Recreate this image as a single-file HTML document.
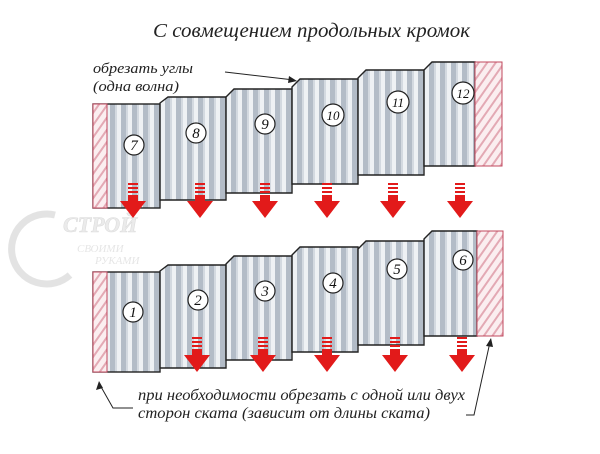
<!DOCTYPE html>
<html><head><meta charset="utf-8"><style>
html,body{margin:0;padding:0;background:#fff;}
svg{display:block;}
text{font-family:"Liberation Serif",serif;font-style:italic;}
</style></head><body>
<svg width="600" height="454" viewBox="0 0 600 454" xmlns="http://www.w3.org/2000/svg">
<defs>
<pattern id="st" width="11" height="10" patternUnits="userSpaceOnUse">
<rect width="11" height="10" fill="#eef1f4"/>
<rect x="0" width="5" height="10" fill="#b3bcc7"/>
<rect x="5" width="2" height="10" fill="#d3d9e0"/>
</pattern>
<pattern id="ht" width="7" height="7" patternUnits="userSpaceOnUse" patternTransform="rotate(35)">
<rect width="7" height="7" fill="#fbeef0"/>
<rect width="2" height="7" fill="#e3a9b4"/>
</pattern>
<g id="ar">
<rect x="-5" y="0" width="10" height="2" fill="#e21a1a"/>
<rect x="-5" y="4" width="10" height="2" fill="#e21a1a"/>
<rect x="-5" y="8" width="10" height="2" fill="#e21a1a"/>
<rect x="-5" y="12" width="10" height="6" fill="#e21a1a"/>
<polygon points="-13,18 13,18 0,35" fill="#e21a1a"/>
</g>
</defs>
<rect width="600" height="454" fill="#fff"/>
<text x="153" y="37" font-size="20" fill="#222" textLength="317" lengthAdjust="spacingAndGlyphs">С совмещением продольных кромок</text>

<!-- watermark -->
<g opacity="0.5" fill="none" stroke="#c9c9c9">
<path d="M55 215 A35 35 0 1 0 70 275" stroke-width="7"/>
<text x="63" y="232" font-size="22" fill="#d8d8d8" stroke="#bbb" stroke-width="0.6" font-style="normal" font-weight="bold">СТРОЙ</text>
<text x="77" y="252" font-size="11" fill="#ccc" stroke="none" font-style="normal">СВОИМИ</text>
<text x="95" y="264" font-size="11" fill="#ccc" stroke="none" font-style="normal">РУКАМИ</text>
</g>

<!-- top row -->
<g stroke="#222" stroke-width="1.4">
<rect x="93" y="104" width="67" height="104" fill="url(#st)"/>
<rect x="93" y="104" width="14" height="104" fill="url(#ht)" stroke="#c0485e" stroke-width="1"/>
<polygon points="160,103 168,97 226,97 226,200 160,200" fill="url(#st)"/>
<polygon points="226,97 234,89 292,89 292,193 226,193" fill="url(#st)"/>
<polygon points="292,87 300,79 358,79 358,184 292,184" fill="url(#st)"/>
<polygon points="358,78 366,70 424,70 424,175 358,175" fill="url(#st)"/>
<polygon points="424,70 432,62 475,62 475,166 424,166" fill="url(#st)"/>
<rect x="475" y="62" width="27" height="104" fill="url(#ht)" stroke="#c0485e" stroke-width="1"/>
</g>
<!-- bottom row -->
<g stroke="#222" stroke-width="1.4">
<rect x="93" y="272" width="67" height="100" fill="url(#st)"/>
<rect x="93" y="272" width="14" height="100" fill="url(#ht)" stroke="#c0485e" stroke-width="1"/>
<polygon points="160,271 168,265 226,265 226,368 160,368" fill="url(#st)"/>
<polygon points="226,264 234,256 292,256 292,360 226,360" fill="url(#st)"/>
<polygon points="292,255 300,247 358,247 358,352 292,352" fill="url(#st)"/>
<polygon points="358,249 366,241 424,241 424,345 358,345" fill="url(#st)"/>
<polygon points="424,239 432,231 477,231 477,336 424,336" fill="url(#st)"/>
<rect x="477" y="231" width="26" height="105" fill="url(#ht)" stroke="#c0485e" stroke-width="1"/>
</g>

<!-- circles -->
<g fill="#fff" stroke="#222" stroke-width="1.2">
<circle cx="134" cy="145" r="10"/><circle cx="196" cy="133" r="10"/><circle cx="265" cy="124" r="10"/>
<circle cx="333" cy="115" r="11"/><circle cx="398" cy="102" r="11"/><circle cx="463" cy="93" r="11"/>
<circle cx="133" cy="312" r="10"/><circle cx="198" cy="300" r="10"/><circle cx="265" cy="291" r="10"/>
<circle cx="333" cy="283" r="10"/><circle cx="397" cy="269" r="10"/><circle cx="463" cy="260" r="10"/>
</g>
<g font-size="15" fill="#111" text-anchor="middle">
<text x="134" y="150">7</text><text x="196" y="138">8</text><text x="265" y="129">9</text>
<text x="333" y="120" font-size="13">10</text><text x="398" y="107" font-size="13">11</text><text x="463" y="98" font-size="13">12</text>
<text x="133" y="317">1</text><text x="198" y="305">2</text><text x="265" y="296">3</text>
<text x="333" y="288">4</text><text x="397" y="274">5</text><text x="463" y="265">6</text>
</g>

<!-- arrows -->
<use href="#ar" x="133" y="183"/><use href="#ar" x="200" y="183"/><use href="#ar" x="265" y="183"/>
<use href="#ar" x="327" y="183"/><use href="#ar" x="393" y="183"/><use href="#ar" x="460" y="183"/>
<use href="#ar" x="197" y="337"/><use href="#ar" x="263" y="337"/><use href="#ar" x="327" y="337"/>
<use href="#ar" x="395" y="337"/><use href="#ar" x="462" y="337"/>

<!-- labels -->
<text x="93" y="73" font-size="15" fill="#222" textLength="100" lengthAdjust="spacingAndGlyphs">обрезать углы</text>
<text x="93" y="91" font-size="15" fill="#222" textLength="86" lengthAdjust="spacingAndGlyphs">(одна волна)</text>
<g stroke="#222" stroke-width="1" fill="none">
<line x1="225" y1="72" x2="294" y2="80"/>
<polyline points="133,408 113,408 100,385"/>
<polyline points="466,415 474,415 490,342"/>
</g>
<polygon points="297,81 289,76 288,83" fill="#222"/>
<polygon points="99,381 96,390 103,388" fill="#222"/>
<polygon points="491,338 486,346 493,347" fill="#222"/>
<text x="138" y="400" font-size="16" fill="#222" textLength="327" lengthAdjust="spacingAndGlyphs">при необходимости обрезать с одной или двух</text>
<text x="138" y="418" font-size="16" fill="#222" textLength="292" lengthAdjust="spacingAndGlyphs">сторон ската (зависит от длины ската)</text>
</svg>
</body></html>
